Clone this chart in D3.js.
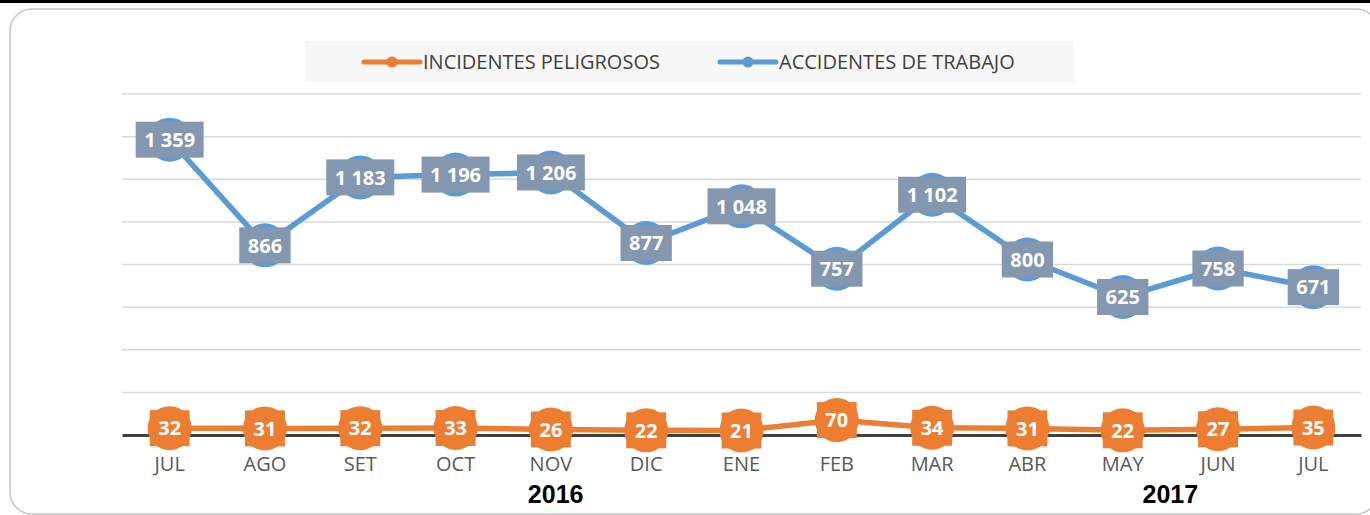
<!DOCTYPE html>
<html>
<head>
<meta charset="utf-8">
<script src="https://cdn.jsdelivr.net/npm/d3@7"></script>
<style>
  html, body { margin: 0; padding: 0; background: #fff; }
  svg { display: block; }
</style>
</head>
<body>
<div id="chart"></div>
<script>
// data
var months = ['JUL', 'AGO', 'SET', 'OCT', 'NOV', 'DIC', 'ENE', 'FEB', 'MAR', 'ABR', 'MAY', 'JUN', 'JUL'];
var incidentes = [32, 31, 32, 33, 26, 22, 21, 70, 34, 31, 22, 27, 35];
var accidentes = [1359, 866, 1183, 1196, 1206, 877, 1048, 757, 1102, 800, 625, 758, 671];
var years = ['2016', '2017'];
var yearAt = [4.05, 10.5];   // position in category steps
var seriesNames = ['INCIDENTES PELIGROSOS', 'ACCIDENTES DE TRABAJO'];

const W = 1370, H = 515;
const orange = '#ed7d31', blue = '#5b9bd5', labelBlue = '#8497b0';

const svg = d3.select('#chart').append('svg')
    .attr('width', W).attr('height', H);

// top black strip + rounded frame
svg.append('rect').attr('x', 0).attr('y', 0).attr('width', W).attr('height', 3).attr('fill', '#000');
svg.append('rect')
    .attr('x', 10).attr('y', 9).attr('width', 1368).attr('height', 505)
    .attr('rx', 22).attr('fill', '#fff')
    .attr('stroke', '#c6c6c6').attr('stroke-width', 1.5);

const x = d3.scaleBand().domain(d3.range(months.length)).range([122, 1361]);
const y = d3.scaleLinear().domain([0, 1600]).range([435, 94]);
// accidentes sit on a hidden secondary axis, a few px higher
const y2 = d3.scaleLinear().domain([0, 1600]).range([431, 88]);
const cx = i => x(i) + x.bandwidth() / 2;

// gridlines
svg.append('g').selectAll('line')
    .data(y.ticks(8).filter(d => d > 0))
    .enter().append('line')
    .attr('x1', 122).attr('x2', 1361)
    .attr('y1', d => y(d)).attr('y2', d => y(d))
    .attr('stroke', '#d9d9d9').attr('stroke-width', 1.5);

// category axis
const xAxis = svg.append('g')
    .attr('transform', `translate(0,${y(0)})`)
    .call(d3.axisBottom(x).tickSize(0).tickPadding(22).tickFormat(i => months[i]));
xAxis.select('.domain').attr('stroke', '#404040').attr('stroke-width', 3);
xAxis.selectAll('text')
    .attr('font-family', 'Open Sans').attr('font-size', '20px').attr('fill', '#595959');

// year labels
svg.append('g').selectAll('text')
    .data(years)
    .enter().append('text')
    .attr('x', (d, i) => cx(0) + yearAt[i] * x.step())
    .attr('y', 503)
    .attr('text-anchor', 'middle')
    .attr('font-family', 'Liberation Sans, Arial').attr('font-weight', 'bold')
    .attr('font-size', '25px').attr('fill', '#000')
    .text(d => d);

const fmt = v => d3.format(',')(v).replace(/,/g, ' ');

function drawSeries(values, yScale, color, boxColor) {
    const g = svg.append('g');
    g.append('path')
        .datum(values)
        .attr('fill', 'none').attr('stroke', color).attr('stroke-width', 5.5)
        .attr('stroke-linejoin', 'round')
        .attr('d', d3.line().x((d, i) => cx(i)).y(d => yScale(d)));
    g.selectAll('circle')
        .data(values)
        .enter().append('circle')
        .attr('cx', (d, i) => cx(i)).attr('cy', d => yScale(d))
        .attr('r', 22).attr('fill', color);
    const lab = g.selectAll('g.lab')
        .data(values)
        .enter().append('g').attr('class', 'lab')
        .attr('transform', (d, i) => `translate(${cx(i)},${yScale(d)})`);
    lab.append('rect').attr('fill', boxColor);
    const texts = lab.append('text')
        .attr('text-anchor', 'middle').attr('dy', '0.36em')
        .attr('font-family', 'Open Sans').attr('font-weight', 'bold')
        .attr('font-size', '20px').attr('fill', '#fff')
        .text(d => fmt(d));
    texts.each(function () {
        const w = this.getComputedTextLength() + 17;
        d3.select(this.parentNode).select('rect')
            .attr('x', -w / 2).attr('y', -18).attr('width', w).attr('height', 36);
    });
}

drawSeries(accidentes, y2, blue, labelBlue);
drawSeries(incidentes, y, orange, orange);

// legend
const leg = svg.append('g');
leg.append('rect').attr('x', 305).attr('y', 41).attr('width', 769).attr('height', 41).attr('fill', '#f7f7f7');
const legItems = [
    { name: seriesNames[0], color: orange, x0: 364 },
    { name: seriesNames[1], color: blue, x0: 720 }
];
legItems.forEach(function (it) {
    leg.append('line').attr('x1', it.x0).attr('x2', it.x0 + 56).attr('y1', 62).attr('y2', 62)
        .attr('stroke', it.color).attr('stroke-width', 5).attr('stroke-linecap', 'round');
    leg.append('circle').attr('cx', it.x0 + 28).attr('cy', 62).attr('r', 5.5).attr('fill', it.color);
    leg.append('text').attr('x', it.x0 + 59).attr('y', 62).attr('dy', '0.35em')
        .attr('font-family', 'Open Sans').attr('font-size', '20px').attr('fill', '#404040')
        .text(it.name);
});
</script>
</body>
</html>
